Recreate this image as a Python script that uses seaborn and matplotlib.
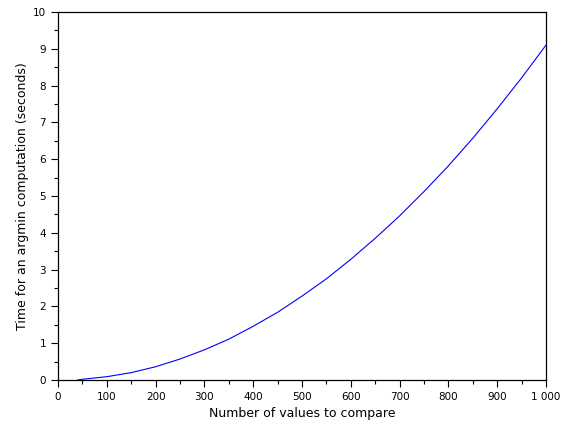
import matplotlib
matplotlib.use("Agg")
import matplotlib.pyplot as plt
import pandas as pd
import seaborn as sns
from matplotlib.ticker import MultipleLocator

# values
n_values = [40, 50, 100, 150, 200, 250, 300, 350, 400, 450, 500,
            550, 600, 650, 700, 750, 800, 850, 900, 950, 1000]
time_sec = [0.0, 0.02, 0.09, 0.2, 0.36, 0.57, 0.82, 1.11, 1.46, 1.84, 2.28,
            2.75, 3.28, 3.85, 4.46, 5.12, 5.82, 6.57, 7.37, 8.21, 9.1]

x_ticks = [0, 100, 200, 300, 400, 500, 600, 700, 800, 900, 1000]
x_tick_labels = ["0", "100", "200", "300", "400", "500", "600", "700", "800", "900", "1 000"]
y_ticks = list(range(0, 11))

sns.set_style("ticks")
plt.rcParams["font.family"] = ["DejaVu Sans"]

df = pd.DataFrame({"n": n_values, "t": time_sec})

fig = plt.figure(figsize=(5.63, 4.28), dpi=100)
ax = fig.add_axes([58 / 563, 48 / 428, 488 / 563, 368 / 428])
sns.lineplot(data=df, x="n", y="t", ax=ax, color="#0000ff", linewidth=0.8)

ax.set_xlim(0, 1000)
ax.set_ylim(0, 10)
ax.set_xticks(x_ticks)
ax.set_xticklabels(x_tick_labels)
ax.set_yticks(y_ticks)
ax.xaxis.set_minor_locator(MultipleLocator(50))
ax.yaxis.set_minor_locator(MultipleLocator(0.5))
ax.tick_params(which="major", length=5, width=0.8, labelsize=7.5, color="black",
               labelcolor="black", direction="out")
ax.tick_params(which="minor", length=3, width=0.8, color="black", direction="out")

for side in ["top", "right", "left", "bottom"]:
    ax.spines[side].set_visible(True)
    ax.spines[side].set_color("black")
    ax.spines[side].set_linewidth(0.9)

ax.set_xlabel("Number of values to compare", fontsize=9, labelpad=4, color="black")
ax.set_ylabel("Time for an argmin computation (seconds)", fontsize=9, labelpad=3, color="black")

fig.savefig("out.png", dpi=100)
